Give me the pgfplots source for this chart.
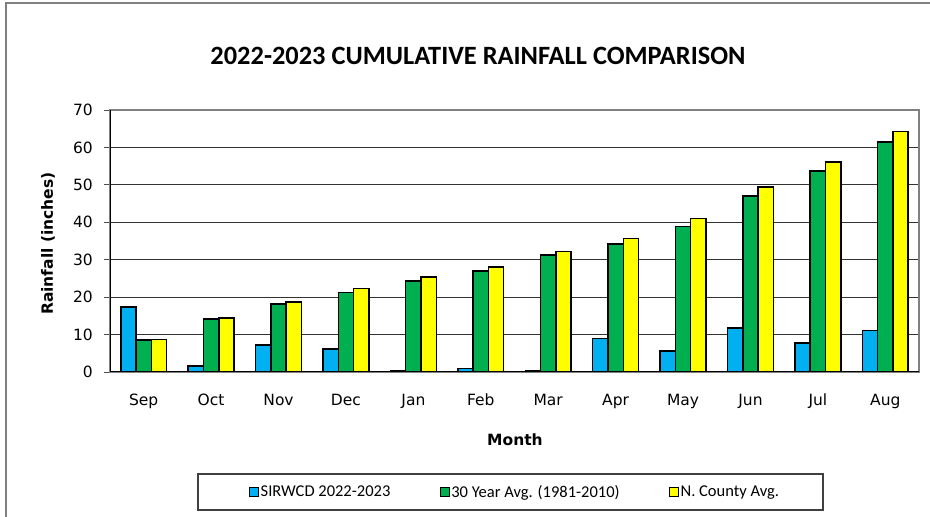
\documentclass[border=0pt]{standalone}
\usepackage{pgfplots}
\pgfplotsset{compat=1.18}
\usepackage{fontspec}
\setmainfont{DejaVu Sans}
\newfontfamily\calibri{Carlito}

\definecolor{sirblue}{HTML}{00B0F0}
\definecolor{avggreen}{HTML}{00B050}
\definecolor{cntyellow}{HTML}{FFFF00}

\begin{document}
\begin{tikzpicture}[x=1pt,y=1pt]
\useasboundingbox (0,0) rectangle (930,517);
% outer chart frame (only left and top visible in the crop)
\draw[gray,line width=1.5pt] (6,0) -- (6,514) -- (930,514);
\node[font=\calibri\bfseries\fontsize{26.4}{30}\selectfont,anchor=base] at (478,452)
  {2022-2023 CUMULATIVE RAINFALL COMPARISON};
% legend frame
\draw[black!75,line width=1.2pt] (198,7) rectangle (823,43);

\begin{axis}[
    at={(110pt,145pt)}, anchor=south west,
    scale only axis, width=809pt, height=262pt,
    ybar=0pt, bar width=15.3pt,
    xmin=-0.5, xmax=11.5, ymin=0, ymax=70,
    xtick={0,...,11},
    xticklabels={Sep,Oct,Nov,Dec,Jan,Feb,Mar,Apr,May,Jun,Jul,Aug},
    minor xtick={-0.5,0.5,...,11.5},
    ytick={0,10,...,70},
    tick align=outside, tick pos=left,
    major tick length=6pt, minor tick length=7pt,
    xtick style={draw=none},
    minor tick style={black!70,line width=0.8pt},
    ytick style={black!70,line width=0.8pt},
    ymajorgrids, grid style={black!80,line width=0.9pt},
    axis line style={gray,line width=1.2pt},
    /pgf/number format/assume math mode=true,
    tick label style={font=\fontsize{15.5}{18}\selectfont},
    yticklabel style={anchor=east,inner sep=0pt,xshift=-11pt},
    xticklabel style={anchor=base,yshift=-27pt},
    label style={font=\bfseries\fontsize{15.5}{18}\selectfont},
    xlabel={Month},
    xlabel style={at={(axis description cs:0.5006,-0.2595)},anchor=center},
    ylabel={Rainfall (inches)},
    ylabel style={at={(axis description cs:-0.0766,0.49)},anchor=center},
    legend columns=3,
    legend image code/.code={\draw[#1,line width=1pt] (0pt,-4.5pt) rectangle (9pt,4.5pt);},
    legend style={draw=none,fill=none,inner sep=0pt,
      at={(axis description cs:0.1718,-0.458)},anchor=west,
      font=\calibri\fontsize{16.5}{19}\selectfont,
      nodes={inner sep=1.5pt},
      /tikz/every even column/.append style={column sep=48pt}},
]
\addplot[fill=sirblue,draw=black,line width=1.5pt] coordinates {
  (0,17.3) (1,1.6) (2,7.2) (3,6.2) (4,0.4) (5,1.0)
  (6,0.3) (7,8.9) (8,5.6) (9,11.7) (10,7.7) (11,11.1)};
\addlegendentry{SIRWCD 2022-2023}
\addplot[fill=avggreen,draw=black,line width=1.5pt] coordinates {
  (0,8.6) (1,14.1) (2,18.2) (3,21.2) (4,24.3) (5,27.0)
  (6,31.2) (7,34.2) (8,38.9) (9,47.0) (10,53.7) (11,61.5)};
\addlegendentry{30 Year Avg. (1981-2010)}
\addplot[fill=cntyellow,draw=black,line width=1.5pt] coordinates {
  (0,8.7) (1,14.4) (2,18.7) (3,22.3) (4,25.4) (5,28.1)
  (6,32.2) (7,35.7) (8,41.0) (9,49.4) (10,56.1) (11,64.3)};
\addlegendentry{N. County Avg.}
% left and bottom axis lines are black
\draw[black,line width=1.2pt] (rel axis cs:0,1) -- (rel axis cs:0,0) -- (rel axis cs:1,0);
\end{axis}
\end{tikzpicture}
\end{document}
